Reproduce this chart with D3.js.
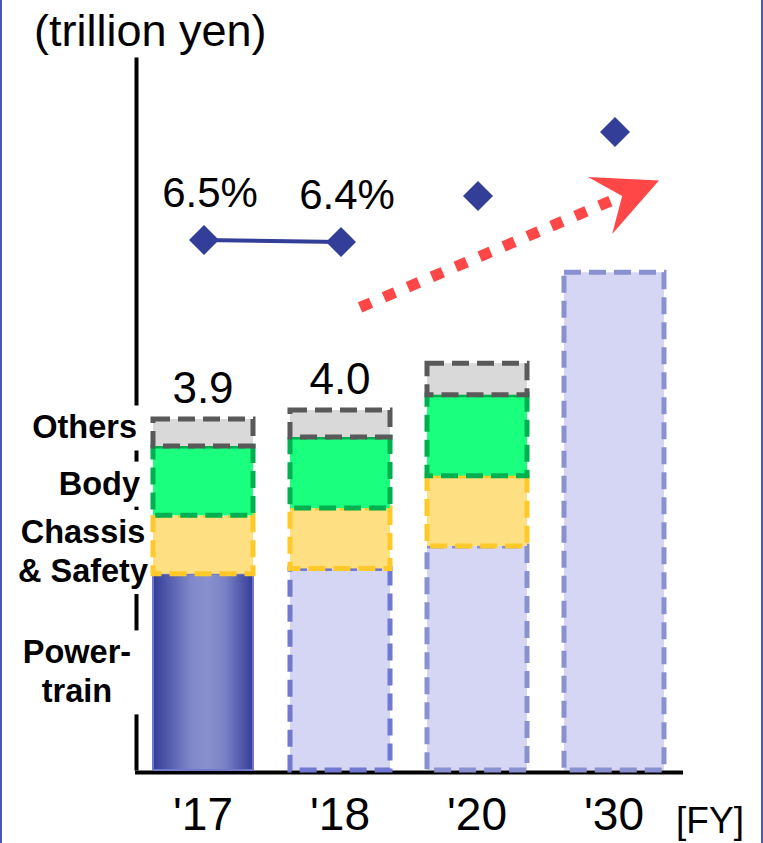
<!DOCTYPE html>
<html>
<head>
<meta charset="utf-8">
<script src="https://cdn.jsdelivr.net/npm/d3@7"></script>
<style>
  html, body { margin: 0; padding: 0; background: #fff; }
  svg { display: block; font-family: "Liberation Sans", Arial, Helvetica, sans-serif; }
</style>
</head>
<body>
<svg id="chart" width="763" height="843"></svg>
<script>
// Fiscal years on the category axis
const years = ["'17", "'18", "'20", "'30"];
// Stack segments, bottom to top
const segments = ["Power-train", "Chassis & Safety", "Body", "Others"];
// Segment values (trillion yen)
const powertrain    = [2.18, 2.24, 2.49, 5.53];
const chassisSafety = [0.65, 0.67, 0.78, 0];
const body          = [0.77, 0.79, 0.90, 0];
const others        = [0.30, 0.30, 0.35, 0];
// Which bar totals carry a printed value
const totalLabelled = [true, true, false, false];
// Share (%) markers above the bars
const shareValues   = [6.5, 6.4, 8.7, 11.9];
const shareLabelled = [true, true, false, false];
// Row labels beside the first bar
const segmentLabels = [["Power-", "train"], ["Chassis", "& Safety"], ["Body"], ["Others"]];
const unitLabel = "(trillion yen)";
const periodLabel = "[FY]";

const svg = d3.select("#chart");
const W = 763, H = 843;

// Slide frame
svg.append("rect")
  .attr("x", 1).attr("y", -10).attr("width", W - 2).attr("height", H + 20)
  .attr("fill", "#fff").attr("stroke", "#4b55b6").attr("stroke-width", 2);

// Scales
const x = d3.scaleBand().domain(years).range([134.5, 682.5])
  .paddingInner(0.27).paddingOuter(0.135);
const y = d3.scaleLinear().domain([0, 7.922]).range([770, 57]);
const yShare = d3.scaleLinear().domain([0, 12]).range([370, 130]);

// Table for the stack layout
const table = years.map((yr, i) => ({
  year: yr,
  "Power-train": powertrain[i],
  "Chassis & Safety": chassisSafety[i],
  "Body": body[i],
  "Others": others[i]
}));
const stacked = d3.stack().keys(segments)(table);

// Gradient for the actual-year powertrain bar
const defs = svg.append("defs");
const grad = defs.append("linearGradient").attr("id", "ptGrad")
  .attr("x1", "0%").attr("x2", "100%").attr("y1", "0%").attr("y2", "0%");
[[0, "#333d98"], [0.38, "#8088ca"], [0.55, "#8890cd"], [0.72, "#7a82c6"], [1, "#333d98"]]
  .forEach(([o, c]) => grad.append("stop").attr("offset", o).attr("stop-color", c));

// Axes
const yAxis = svg.append("g").attr("transform", "translate(136,0)")
  .call(d3.axisLeft(y).tickValues([]).tickSizeOuter(0));
yAxis.select(".domain").attr("stroke", "#000").attr("stroke-width", 4);

const xAxis = svg.append("g").attr("transform", "translate(0,772)")
  .call(d3.axisBottom(x).tickSize(0).tickSizeOuter(0));
xAxis.select(".domain").attr("stroke", "#000").attr("stroke-width", 4);
xAxis.selectAll("text")
  .attr("y", 58).attr("dy", null)
  .attr("font-size", 46).attr("fill", "#000")
  .style("font-family", "'Liberation Sans', Arial, sans-serif");

svg.append("text").attr("x", 710).attr("y", 833)
  .attr("text-anchor", "middle").attr("font-size", 37).text(periodLabel);

svg.append("text").attr("x", 34).attr("y", 46)
  .attr("font-size", 45).text(unitLabel);

// Row labels (white text boxes sit over the value axis)
const labelLayout = [
  { anchor: "middle", x: 77, dy: 0 },
  { anchor: "middle", x: 83, dy: 7 },
  { anchor: "end", x: 140, dy: 3 },
  { anchor: "end", x: 137, dy: -5 }
];
const lineGap = 39;
stacked.forEach((layer, k) => {
  const d = layer[0];
  const mid = (y(d[0]) + y(d[1])) / 2;
  const lines = segmentLabels[k];
  const firstBase = mid + 11 + labelLayout[k].dy - (lines.length - 1) * lineGap / 2;
  svg.append("rect")
    .attr("x", 12).attr("width", 138)
    .attr("y", firstBase - 33)
    .attr("height", (lines.length - 1) * lineGap + 45)
    .attr("fill", "#fff");
  const t = svg.append("text")
    .attr("text-anchor", labelLayout[k].anchor)
    .attr("font-size", 32.5).attr("font-weight", "bold");
  lines.forEach((ln, j) => {
    t.append("tspan").attr("x", labelLayout[k].x)
      .attr("y", firstBase + j * lineGap).text(ln);
  });
});

// Stacked bars
const segStyle = {
  "Chassis & Safety": { fill: "#fedf82", stroke: "#ffc929" },
  "Body":             { fill: "#1aff7d", stroke: "#00b050" },
  "Others":           { fill: "#d9d9d9", stroke: "#595959" }
};
const forecastStroke = { "'18": "#7078cf", "'20": "#8a91d0", "'30": "#8a91d0" };

stacked.forEach(layer => {
  const key = layer.key;
  layer.forEach(d => {
    const yr = d.data.year;
    if (d[1] - d[0] <= 0) return;
    const r = svg.append("rect")
      .attr("x", x(yr)).attr("width", x.bandwidth())
      .attr("y", y(d[1])).attr("height", y(d[0]) - y(d[1]));
    if (key === "Power-train") {
      if (yr === years[0]) {
        r.attr("fill", "url(#ptGrad)").attr("stroke", "#7078cc").attr("stroke-width", 2);
      } else {
        r.attr("fill", "#d4d6f3").attr("stroke", forecastStroke[yr])
          .attr("stroke-width", 5).attr("stroke-dasharray", "17 8");
      }
    } else {
      r.attr("fill", segStyle[key].fill).attr("stroke", segStyle[key].stroke)
        .attr("stroke-width", 5).attr("stroke-dasharray", "17 8");
    }
  });
});

// Bar totals
const fmt = d3.format(".1f");
table.forEach((row, i) => {
  if (!totalLabelled[i]) return;
  const total = powertrain[i] + chassisSafety[i] + body[i] + others[i];
  svg.append("text")
    .attr("x", x(row.year) + x.bandwidth() / 2)
    .attr("y", y(total) - 16)
    .attr("text-anchor", "middle").attr("font-size", 44)
    .text(fmt(total));
});

// Share markers
const cx = yr => x(yr) + x.bandwidth() / 2;
const actualPts = years.filter((yr, i) => shareLabelled[i]).map((yr, i) => [cx(yr), yShare(shareValues[i])]);
svg.append("path").attr("d", d3.line()(actualPts))
  .attr("fill", "none").attr("stroke", "#333e99").attr("stroke-width", 4);

const diamond = d3.symbol().type(d3.symbolSquare).size(450);
years.forEach((yr, i) => {
  svg.append("path").attr("d", diamond())
    .attr("transform", `translate(${cx(yr) + 1},${yShare(shareValues[i])}) rotate(45)`)
    .attr("fill", "#333e99");
  if (shareLabelled[i]) {
    svg.append("text")
      .attr("x", cx(yr) + 7).attr("y", yShare(shareValues[i]) - 33)
      .attr("text-anchor", "middle").attr("font-size", 42)
      .text(shareValues[i].toFixed(1) + "%");
  }
});

// Growth arrow
const start = [x("'18") + 70, y(5.14)];
const tip = [x("'30") + 95, y(6.55)];
const ang = Math.atan2(tip[1] - start[1], tip[0] - start[0]);
const len = Math.hypot(tip[0] - start[0], tip[1] - start[1]);
const arrow = svg.append("g")
  .attr("transform", `translate(${start[0]},${start[1]}) rotate(${ang * 180 / Math.PI})`);
arrow.append("line")
  .attr("x1", 0).attr("y1", 0).attr("x2", len - 48).attr("y2", 0)
  .attr("stroke", "#ff4747").attr("stroke-width", 11)
  .attr("stroke-dasharray", "12 14");
arrow.append("path")
  .attr("d", `M${len},0 L${len - 64},-31 L${len - 40},0 L${len - 64},31 Z`)
  .attr("fill", "#ff4747");
</script>
</body>
</html>
